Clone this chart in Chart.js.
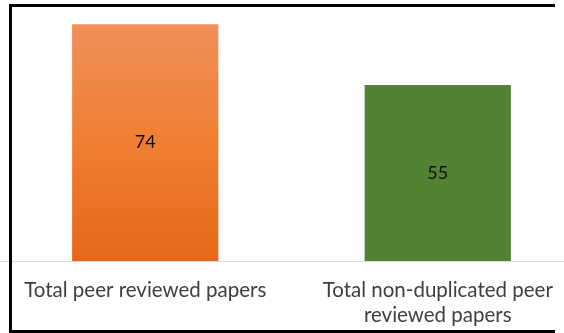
<!DOCTYPE html>
<html>
<head>
<meta charset="utf-8">
<script src="https://cdn.jsdelivr.net/npm/chart.js@4/dist/chart.umd.min.js"></script>
<style>
  html, body { margin: 0; padding: 0; background: #fff; overflow: hidden; width: 564px; height: 333px; }
  #clip { position: absolute; left: 0; top: 0; width: 564px; height: 333px; overflow: hidden; }
  #wrap { position: absolute; left: -1px; top: 0; width: 585px; height: 333px; }
  .edge { position: absolute; background: #000; pointer-events: none; }
</style>
</head>
<body>
<div id="clip">
  <div id="wrap"><canvas id="papers"></canvas></div>
  <div class="edge" style="left:9px; top:4px; width:546px; height:3px;"></div>
  <div class="edge" style="left:9px; top:4px; width:3px; height:329px;"></div>
  <div class="edge" style="left:9px; top:330px; width:546px; height:3px;"></div>
</div>
<script>
// chart data
const categories = [
  'Total peer reviewed papers',
  ['Total non-duplicated peer', 'reviewed papers']
];
const paperCounts = [74, 55];

let ctx = document.getElementById('papers').getContext('2d');

// draws the value in the middle of each bar
const midLabels = {
  id: 'midLabels',
  afterDatasetsDraw(chart) {
    let c = chart.ctx;
    let meta = chart.getDatasetMeta(0);
    c.save();
    c.font = '18px Lato, sans-serif';
    c.fillStyle = '#111';
    c.textAlign = 'center';
    c.textBaseline = 'middle';
    meta.data.forEach((bar, i) => {
      let y = (bar.y + bar.base) / 2;
      c.fillText(String(paperCounts[i]), bar.x, y);
    });
    c.restore();
  }
};

function barFill(context) {
  let chart = context.chart;
  let area = chart.chartArea;
  if (!area) return '#ED7D31';
  if (context.dataIndex === 1) return '#548235';
  let g = chart.ctx.createLinearGradient(0, area.top, 0, area.bottom);
  g.addColorStop(0, '#F19260');
  g.addColorStop(0.5, '#F08035');
  g.addColorStop(1, '#E5681A');
  return g;
}

new Chart(ctx,
{
  type: 'bar',
  data:
  {
    labels: categories,
    datasets:
    [{
      data: paperCounts,
      backgroundColor: barFill,
      borderWidth: 0,
      barPercentage: 0.5,
      categoryPercentage: 1.0
    }]
  },
  options:
  {
    responsive: true,
    maintainAspectRatio: false,
    animation: false,
    layout: { padding: { top: 5, left: 0, right: 0, bottom: 0 } },
    plugins:
    {
      legend: { display: false },
      tooltip: { enabled: false }
    },
    scales:
    {
      x:
      {
        grid: { display: false, drawTicks: false },
        border: { display: true, color: '#D9D9D9', width: 1 },
        ticks:
        {
          color: '#404040',
          padding: 17,
          maxRotation: 0,
          autoSkip: false,
          font: { family: 'Lato, sans-serif', size: 20.5, lineHeight: 1.2 }
        },
        afterFit: (scale) => { scale.height = 72; }
      },
      y:
      {
        display: false,
        min: 0,
        max: 80
      }
    }
  },
  plugins: [midLabels]
});
</script>
</body>
</html>
